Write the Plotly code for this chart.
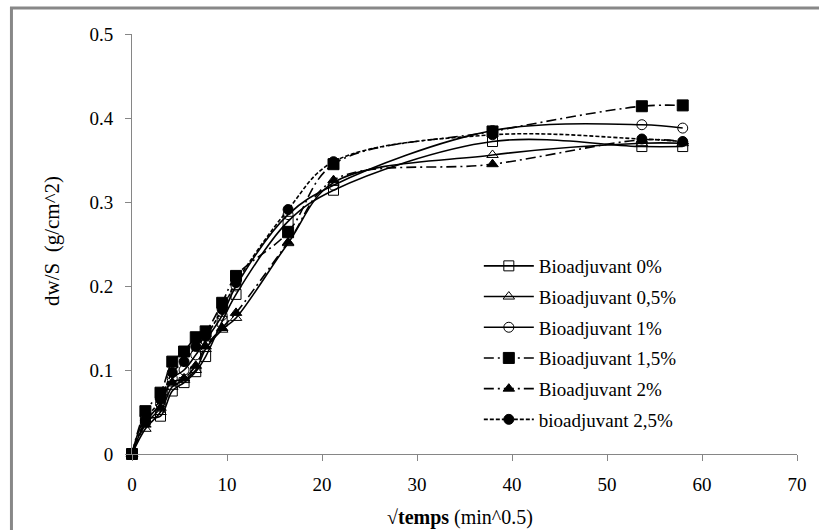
import plotly.graph_objects as go

x_sqrt_t = [0, 1.41, 3.0, 4.24, 5.48, 6.71, 7.75, 9.49, 10.95, 16.43, 21.21, 37.95, 53.67, 57.97]

names = ["Bioadjuvant 0%", "Bioadjuvant 0,5%", "Bioadjuvant 1%",
         "Bioadjuvant 1,5%", "Bioadjuvant 2%", "bioadjuvant 2,5%"]

y_0 = [0, 0.041, 0.045, 0.075, 0.085, 0.098, 0.116, 0.158, 0.190, 0.277, 0.314, 0.372, 0.366, 0.366]
y_05 = [0, 0.030, 0.050, 0.080, 0.088, 0.100, 0.125, 0.148, 0.162, 0.251, 0.323, 0.356, 0.370, 0.370]
y_1 = [0, 0.038, 0.060, 0.090, 0.100, 0.118, 0.135, 0.165, 0.200, 0.285, 0.320, 0.385, 0.392, 0.388]
y_15 = [0, 0.051, 0.073, 0.110, 0.122, 0.139, 0.146, 0.180, 0.212, 0.264, 0.345, 0.384, 0.414, 0.415]
y_2 = [0, 0.035, 0.055, 0.085, 0.090, 0.105, 0.128, 0.150, 0.168, 0.252, 0.326, 0.345, 0.374, 0.372]
y_25 = [0, 0.040, 0.065, 0.097, 0.110, 0.128, 0.140, 0.172, 0.204, 0.291, 0.348, 0.380, 0.375, 0.372]

series = [y_0, y_05, y_1, y_15, y_2, y_25]
symbols = ["square-open", "triangle-up-open", "circle-open", "square", "triangle-up", "circle"]
dashes = ["solid", "solid", "solid", "10px,4px,2px,4px", "10px,4px,2px,4px", "4px,2px"]
sizes = [10, 10, 10, 11, 10, 10]

FONT = "Liberation Serif"

fig = go.Figure()
for i, (nm, ys) in enumerate(zip(names, series)):
    fig.add_trace(go.Scatter(
        x=x_sqrt_t, y=ys, name=nm, mode="lines+markers",
        line=dict(color="black", width=1.6, dash=dashes[i], shape="spline", smoothing=1),
        marker=dict(symbol=symbols[i], size=sizes[i], color="black",
                    line=dict(color="black", width=1)),
        cliponaxis=False, legendgroup=str(i),
    ))

W, H = 819, 530
L, R, T, B = 132, 14, 34, 76
pw, ph = W - L - R, H - T - B

def px2paper_x(px):
    return (px - L) / pw

def px2paper_y(py):
    return (H - B - py) / ph

fig.update_layout(
    width=W, height=H,
    margin=dict(l=L, r=R, t=T, b=B),
    paper_bgcolor="white", plot_bgcolor="white",
    font=dict(family=FONT, color="black", size=19),
    showlegend=True,
    legend=dict(x=px2paper_x(483), y=px2paper_y(247), xanchor="left", yanchor="top",
                font=dict(family=FONT, size=19, color="black"),
                bgcolor="rgba(0,0,0,0)", tracegroupgap=3, itemwidth=50),
    xaxis=dict(range=[0, 70], dtick=10, showline=True, linecolor="#868686", linewidth=1,
               ticks="outside", ticklen=6, tickcolor="#868686", showgrid=False, zeroline=False,
               tickfont=dict(family=FONT, size=19), ticklabelstandoff=7),
    yaxis=dict(range=[0, 0.5], dtick=0.1, showline=True, linecolor="#868686", linewidth=1,
               ticks="outside", ticklen=6, tickcolor="#868686", showgrid=False, zeroline=False,
               tickfont=dict(family=FONT, size=19), ticklabelstandoff=8),
    annotations=[
        dict(text="<b>√temps</b> (min^0.5)", xref="paper", yref="paper",
             x=px2paper_x(464), y=px2paper_y(517), xanchor="center", yanchor="middle",
             showarrow=False, font=dict(family=FONT, size=20)),
        dict(text="dw/S  (g/cm^2)", xref="paper", yref="paper", textangle=-90,
             x=px2paper_x(51), y=px2paper_y(241), xanchor="center", yanchor="middle",
             showarrow=False, font=dict(family=FONT, size=21)),
    ],
    shapes=[dict(type="rect", xref="paper", yref="paper",
                 x0=px2paper_x(10), y0=px2paper_y(560), x1=px2paper_x(850), y1=px2paper_y(8),
                 line=dict(color="#888888", width=3), layer="below")],
)

fig.write_html("out.html", config={"displayModeBar": False},
               post_script="document.body.style.margin='0px';")
